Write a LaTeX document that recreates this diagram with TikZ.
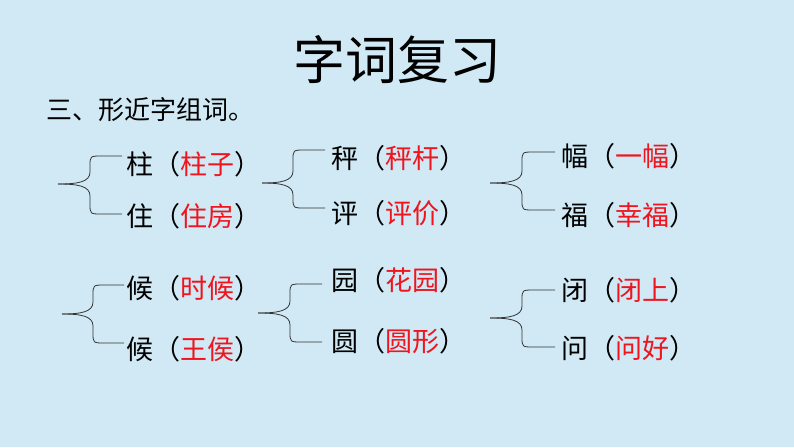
\documentclass[tikz,border=0pt]{standalone}
\usepackage{fontspec}
\setmainfont{Noto Sans CJK SC}
\begin{document}
\begin{tikzpicture}[x=1pt,y=-1pt,
  item/.style={anchor=west,inner sep=0pt,font=\fontsize{27}{30}\selectfont},
  br/.style={draw=black!80,line width=0.8pt}]
\definecolor{bg}{HTML}{D0E9F4}
\definecolor{ans}{HTML}{F0141E}
\fill[bg] (0,0) rectangle (794,447);
\useasboundingbox (0,0) rectangle (794,447);
\node[inner sep=0pt,font=\fontsize{52}{56}\selectfont] (title) at (397,60) {字词复习};
\node[item,font=\fontsize{26}{28}\selectfont] (sub) at (46,110) {三、形近字组词。};
\newcommand{\mybrace}[6]{%
  \draw[br] (#1,#2) .. controls (#3-12,#2) and (#3,#2-2) .. (#3,#2-12) -- (#3,#4+10)
    .. controls (#3,#4) .. (#3+12,#4) -- (#6,#4);
  \draw[br] (#1,#2) .. controls (#3-12,#2) and (#3,#2+2) .. (#3,#2+12) -- (#3,#5-10)
    .. controls (#3,#5) .. (#3+12,#5) -- (#6,#5);}
\mybrace{58}{184}{90}{156}{214}{122}
\mybrace{262}{183}{293}{150}{208}{325}
\mybrace{490}{183}{522}{152}{210}{555}
\mybrace{62}{314}{93}{285}{343}{124}
\mybrace{258}{313}{290}{284}{342}{322}
\mybrace{490}{318}{522}{290}{347}{555}
\node[item] (a1) at (126,164) {柱（\textcolor{ans}{柱子}）};
\node[item] (a2) at (126,216) {住（\textcolor{ans}{住房}）};
\node[item] (b1) at (331,158) {秤（\textcolor{ans}{秤杆}）};
\node[item] (b2) at (331,213) {评（\textcolor{ans}{评价}）};
\node[item] (c1) at (561,156) {幅（\textcolor{ans}{一幅}）};
\node[item] (c2) at (561,215) {福（\textcolor{ans}{幸福}）};
\node[item] (d1) at (126,288) {候（\textcolor{ans}{时候}）};
\node[item] (d2) at (126,349) {候（\textcolor{ans}{王侯}）};
\node[item] (e1) at (331,280) {园（\textcolor{ans}{花园}）};
\node[item] (e2) at (331,341) {圆（\textcolor{ans}{圆形}）};
\node[item] (f1) at (561,290) {闭（\textcolor{ans}{闭上}）};
\node[item] (f2) at (561,348) {问（\textcolor{ans}{问好}）};
\end{tikzpicture}
\end{document}
